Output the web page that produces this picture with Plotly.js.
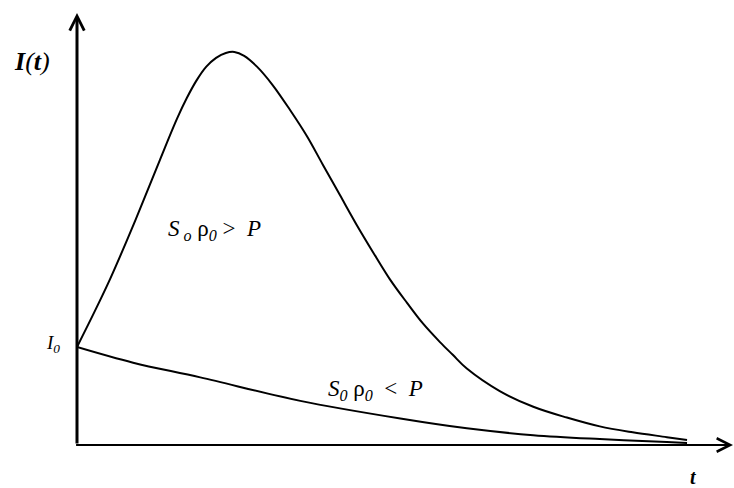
<!DOCTYPE html>
<html>
<head>
<meta charset="utf-8">
<script src="https://cdn.plot.ly/plotly-3.0.1.min.js"></script>
<style>
  html, body { margin: 0; padding: 0; background: #fff; overflow: hidden; }
  #chart { width: 734px; height: 488px; }
</style>
</head>
<body>
<div id="chart"></div>
<script>
// Epidemic curve I(t): outbreak when S0*rho0 > P, monotone decay when S0*rho0 < P
const tOutbreak = [0, 0.28, 0.54, 0.82, 1.10, 1.36, 1.64, 1.80, 1.96, 2.12, 2.28, 2.44, 2.58, 2.74, 2.95,
                   3.21, 3.49, 3.77, 4.03, 4.31, 4.59, 4.85, 5.13, 5.41, 5.67, 5.95, 6.16, 6.39, 6.93,
                   7.48, 8.03, 8.57, 9.11, 9.67, 10.0];
const iOutbreak = [1.00, 1.35, 1.69, 2.09, 2.51, 2.91, 3.33, 3.54, 3.72, 3.86, 3.95, 4.00, 4.01, 3.97, 3.86,
                   3.67, 3.42, 3.15, 2.86, 2.55, 2.24, 1.97, 1.69, 1.45, 1.24, 1.05, 0.92, 0.78, 0.55,
                   0.39, 0.28, 0.19, 0.13, 0.08, 0.05];

const tDecay = [0, 0.92, 2.02, 3.66, 5.30, 6.39, 7.48, 8.57, 9.67, 10.0];
const iDecay = [1.00, 0.84, 0.69, 0.45, 0.27, 0.17, 0.10, 0.06, 0.03, 0.02];

const labelOutbreak = '<i>S</i><sub><i> o</i></sub> ρ<sub><i>0</i></sub> &gt;  <i>P</i>';
const labelDecay = '<i>S</i><sub><i>0</i></sub> ρ<sub><i>0</i></sub>  &lt;  <i>P</i>';
const labelY = '<i><b>I</b>(<b>t</b>)</i>';
const labelI0 = '<i>I</i><sub><i>0</i></sub>';
const labelT = '<i><b>t</b></i>';

const serif = 'Liberation Serif, Times New Roman, serif';

function text(xref, x, y, s, size) {
  return { xref: xref, yref: xref === 'paper' ? 'paper' : 'y', x: x, y: y, text: s,
           showarrow: false, xanchor: 'center', yanchor: 'middle',
           font: { family: serif, size: size, color: '#000' } };
}

const traces = [
  { x: tOutbreak, y: iOutbreak, mode: 'lines', cliponaxis: false,
    line: { color: '#000', width: 2, shape: 'spline', smoothing: 1 }, hoverinfo: 'skip' },
  { x: tDecay, y: iDecay, mode: 'lines', cliponaxis: false,
    line: { color: '#000', width: 2, shape: 'spline', smoothing: 1 }, hoverinfo: 'skip' }
];

const layout = {
  width: 734, height: 488,
  margin: { l: 77, r: 0, t: 0, b: 43 },
  paper_bgcolor: '#fff', plot_bgcolor: '#fff',
  showlegend: false,
  xaxis: { range: [0, 10.77], visible: false, fixedrange: true },
  yaxis: { range: [0, 4.54], visible: false, fixedrange: true },
  annotations: [
    // vertical axis with arrow
    { xref: 'paper', yref: 'paper', x: 0, y: 0.971, axref: 'pixel', ayref: 'pixel', ax: 0, ay: 432,
      text: '', showarrow: true, arrowhead: 5, arrowwidth: 3, arrowsize: 0.95, arrowcolor: '#000', standoff: 0, startstandoff: 0 },
    // horizontal axis with arrow (tip runs just past the right edge)
    { xref: 'paper', yref: 'paper', x: 1.0085, y: 0, axref: 'pixel', ayref: 'pixel', ax: -665, ay: 0,
      text: '', showarrow: true, arrowhead: 5, arrowwidth: 2.2, arrowsize: 1.2, arrowcolor: '#000', standoff: 0, startstandoff: 0 },
    text('paper', -0.068, 0.861, labelY, 26),
    text('paper', -0.037, 0.226, labelI0, 19),
    text('paper', 0.9376, -0.072, labelT, 20),
    text('x', 2.25, 2.19, labelOutbreak, 23),
    text('x', 4.89, 0.56, labelDecay, 23)
  ]
};

Plotly.newPlot('chart', traces, layout, { staticPlot: true, displayModeBar: false });
</script>
</body>
</html>
